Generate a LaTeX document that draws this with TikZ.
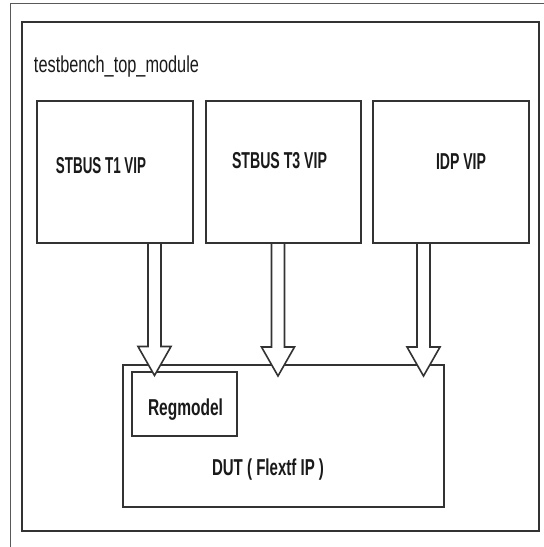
\documentclass[tikz,border=0pt]{standalone}
\usepackage{fontspec}
\setmainfont{Liberation Sans}
\usepackage{graphicx}
\usetikzlibrary{calc}
% squeeze a text horizontally to a given width, keeping its height
\newcommand\fitw[2]{\resizebox{#1}{\height}{#2}}
\definecolor{edge}{HTML}{333333}
\definecolor{ink}{HTML}{1A1A1A}
\tikzset{
  box/.style={draw=edge, line width=2pt, fill=white, rectangle, inner sep=0pt, outer sep=0pt},
  lbl/.style={anchor=base west, inner sep=0pt, outer sep=0pt, text=ink,
              font=\fontsize{23}{25}\selectfont\bfseries},
  ttl/.style={lbl, font=\fontsize{23}{25}\selectfont},
  barrow/.style={draw=edge, line width=1.6pt, fill=white, line join=miter},
  frame/.style={draw=black!65, line width=1pt}
}
% hollow block arrow from a start point (#1) down to a tip (#2)
\newcommand\blockarrow[2]{%
  \path[barrow] let \p1=(#1), \p2=(#2) in
    (\x1-6.5pt,\y1-1pt) -- (\x1-6.5pt,\y2+29pt) -- (\x1-16.5pt,\y2+29pt)
    -- (\x1,\y2) -- (\x1+16.5pt,\y2+29pt) -- (\x1+6.5pt,\y2+29pt)
    -- (\x1+6.5pt,\y1-1pt);}
\begin{document}
\begin{tikzpicture}[x=1pt,y=-1pt]
  \useasboundingbox[fill=white] (0,0) rectangle (544,547);
  % thin outer frame (top and left edges)
  \coordinate (fl) at (10,547);
  \coordinate (fc) at (10,3);
  \coordinate (fr) at (544,3);
  \draw[frame] (fl) -- (fc) -- (fr);

  % testbench top module
  \node[box, minimum width=517pt, minimum height=509pt] (tb) at (280.5,276.5) {};
  \node[ttl] (tbl) at (34,72) {\fitw{165pt}{testbench\_top\_module}};

  % verification IPs
  \node[box, minimum width=156pt, minimum height=142pt] (t1)  at (115,172) {};
  \node[box, minimum width=155pt, minimum height=142pt] (t3)  at (283.5,172) {};
  \node[box, minimum width=156pt, minimum height=142pt] (idp) at (451,172) {};
  \node[lbl] (t1l)  at (56,173)  {\fitw{90pt}{STBUS T1 VIP}};
  \node[lbl] (t3l)  at (232,168) {\fitw{95pt}{STBUS T3 VIP}};
  \node[lbl] (idpl) at (436,169) {\fitw{50pt}{IDP VIP}};

  % design under test
  \node[box, minimum width=321pt, minimum height=142pt] (dut) at (283.5,436) {};
  \node[box, minimum width=105pt, minimum height=64pt] (reg) at (184.5,404) {};
  \node[lbl] (regl) at (148,415) {\fitw{75pt}{Regmodel}};
  \node[lbl] (dutl) at (212,475) {\fitw{112pt}{DUT ( Flextf IP )}};

  % arrow anchor points
  \coordinate (a1) at ([xshift=39.5pt]t1.south);
  \coordinate (a2) at ([xshift=-5.5pt]t3.south);
  \coordinate (a3) at ([xshift=-27.5pt]idp.south);
  \coordinate (b1) at ([yshift=-10.5pt]a1 |- dut.north);
  \coordinate (b2) at ([yshift=-11pt]a2 |- dut.north);
  \coordinate (b3) at ([yshift=-11pt]a3 |- dut.north);

  \blockarrow{a1}{b1}
  \blockarrow{a2}{b2}
  \blockarrow{a3}{b3}
\end{tikzpicture}
\end{document}
